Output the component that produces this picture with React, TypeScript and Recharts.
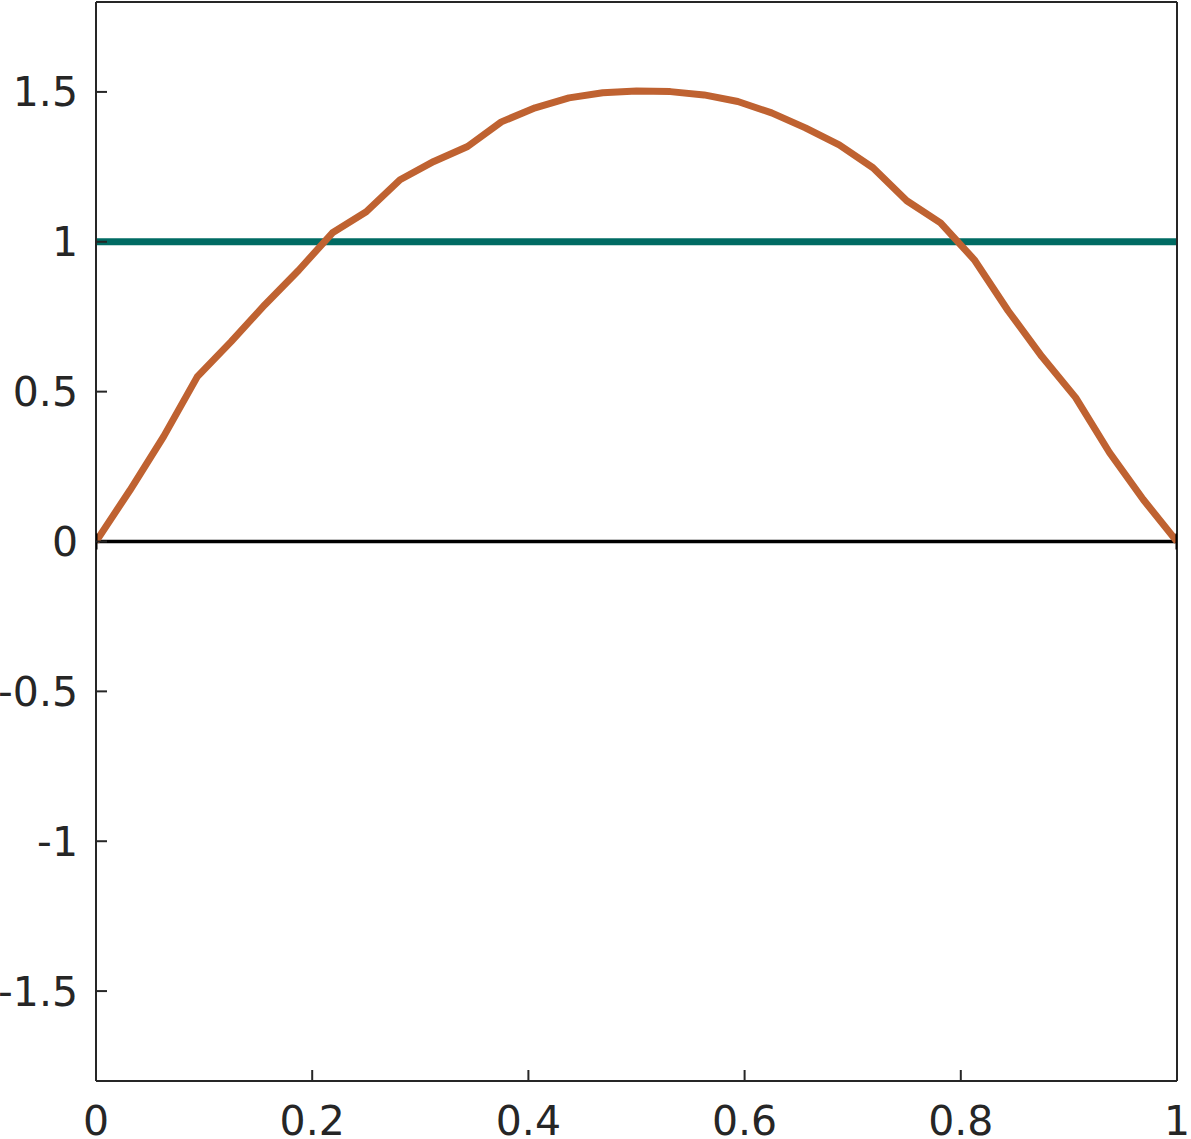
import { LineChart, Line, XAxis, YAxis } from "recharts";

const xValues = [
  0, 0.03125, 0.0625, 0.09375, 0.125, 0.15625, 0.1875, 0.21875, 0.25, 0.28125,
  0.3125, 0.34375, 0.375, 0.40625, 0.4375, 0.46875, 0.5, 0.53125, 0.5625,
  0.59375, 0.625, 0.65625, 0.6875, 0.71875, 0.75, 0.78125, 0.8125, 0.84375,
  0.875, 0.90625, 0.9375, 0.96875, 1,
];
const curveValues = [
  0, 0.17, 0.35, 0.55, 0.667, 0.79, 0.905, 1.03, 1.1, 1.207, 1.268, 1.318,
  1.4, 1.447, 1.48, 1.497, 1.503, 1.501, 1.49, 1.468, 1.43, 1.38, 1.323, 1.247,
  1.137, 1.063, 0.94, 0.77, 0.617, 0.48, 0.297, 0.14, 0,
];
const levelEnds = [0, 1];
const levelValues = [1, 1];
const zeroValues = [0, 0];

const xTicks = [0, 0.2, 0.4, 0.6, 0.8, 1];
const yTicks = [-1.5, -1, -0.5, 0, 0.5, 1, 1.5];

const curveData = xValues.map((x, i) => ({ x, y: curveValues[i] }));
const levelData = levelEnds.map((x, i) => ({ x, y: levelValues[i] }));
const zeroData = levelEnds.map((x, i) => ({ x, y: zeroValues[i] }));

// plot box (layout only)
const W = 1191;
const H = 1139;
const PL = 96;
const PR = 1177;
const PT = 2;
const PB = 1081;
const TICK = 11;
const AX = "#262626";
const FONT = "DejaVu Sans";
const FS = 41;

const leftTick = (p: any) => (
  <g>
    <line x1={PL} x2={PL + TICK} y1={p.y} y2={p.y} stroke={AX} strokeWidth={2} />
    <text x={PL - 18} y={p.y} dy="0.355em" textAnchor="end" fill={AX} fontSize={FS} fontFamily={FONT}>
      {String(p.payload.value)}
    </text>
  </g>
);
const rightTick = (p: any) => (
  <line x1={PR - TICK} x2={PR} y1={p.y} y2={p.y} stroke={AX} strokeWidth={2} />
);
const bottomTick = (p: any) => (
  <g>
    <line x1={p.x} x2={p.x} y1={PB - TICK} y2={PB} stroke={AX} strokeWidth={2} />
    <text x={p.x} y={PB + 54} textAnchor="middle" fill={AX} fontSize={FS} fontFamily={FONT}>
      {String(p.payload.value)}
    </text>
  </g>
);
const topTick = (p: any) => (
  <line x1={p.x} x2={p.x} y1={PT} y2={PT + TICK} stroke={AX} strokeWidth={2} />
);

const zeroDot = (p: any) => (
  <line key={p.index} x1={p.cx} x2={p.cx} y1={p.cy - 8} y2={p.cy + 8} stroke="#000" strokeWidth={3} />
);

export default function App() {
  return (
    <div style={{ position: "absolute", left: 0, top: 0, background: "#fff" }}>
      <LineChart
        width={W}
        height={H}
        margin={{ top: PT - 1, right: W - PR - 1, bottom: 0, left: 0 }}
      >
        <XAxis
          xAxisId="b"
          type="number"
          dataKey="x"
          domain={[0, 1]}
          ticks={xTicks}
          orientation="bottom"
          height={H - PB}
          tickLine={false}
          axisLine={{ stroke: AX, strokeWidth: 2 }}
          tick={bottomTick}
          allowDataOverflow
        />
        <XAxis
          xAxisId="t"
          type="number"
          dataKey="x"
          domain={[0, 1]}
          ticks={xTicks}
          orientation="top"
          height={1}
          tickLine={false}
          axisLine={{ stroke: AX, strokeWidth: 2 }}
          tick={topTick}
        />
        <YAxis
          yAxisId="l"
          type="number"
          domain={[-1.8, 1.8]}
          ticks={yTicks}
          orientation="left"
          width={PL}
          tickLine={false}
          axisLine={{ stroke: AX, strokeWidth: 2 }}
          tick={leftTick}
          allowDataOverflow
        />
        <YAxis
          yAxisId="r"
          type="number"
          domain={[-1.8, 1.8]}
          ticks={yTicks}
          orientation="right"
          width={1}
          tickLine={false}
          axisLine={{ stroke: AX, strokeWidth: 2 }}
          tick={rightTick}
        />
        <Line
          xAxisId="b"
          yAxisId="l"
          data={zeroData}
          dataKey="y"
          stroke="#000"
          strokeWidth={3.5}
          dot={zeroDot}
          activeDot={false}
          isAnimationActive={false}
        />
        <Line
          xAxisId="b"
          yAxisId="l"
          data={levelData}
          dataKey="y"
          stroke="#006b63"
          strokeWidth={7}
          dot={false}
          activeDot={false}
          isAnimationActive={false}
        />
        <Line
          xAxisId="b"
          yAxisId="l"
          data={curveData}
          dataKey="y"
          stroke="#bf6231"
          strokeWidth={7}
          strokeLinejoin="round"
          dot={false}
          activeDot={false}
          isAnimationActive={false}
        />
      </LineChart>
    </div>
  );
}
